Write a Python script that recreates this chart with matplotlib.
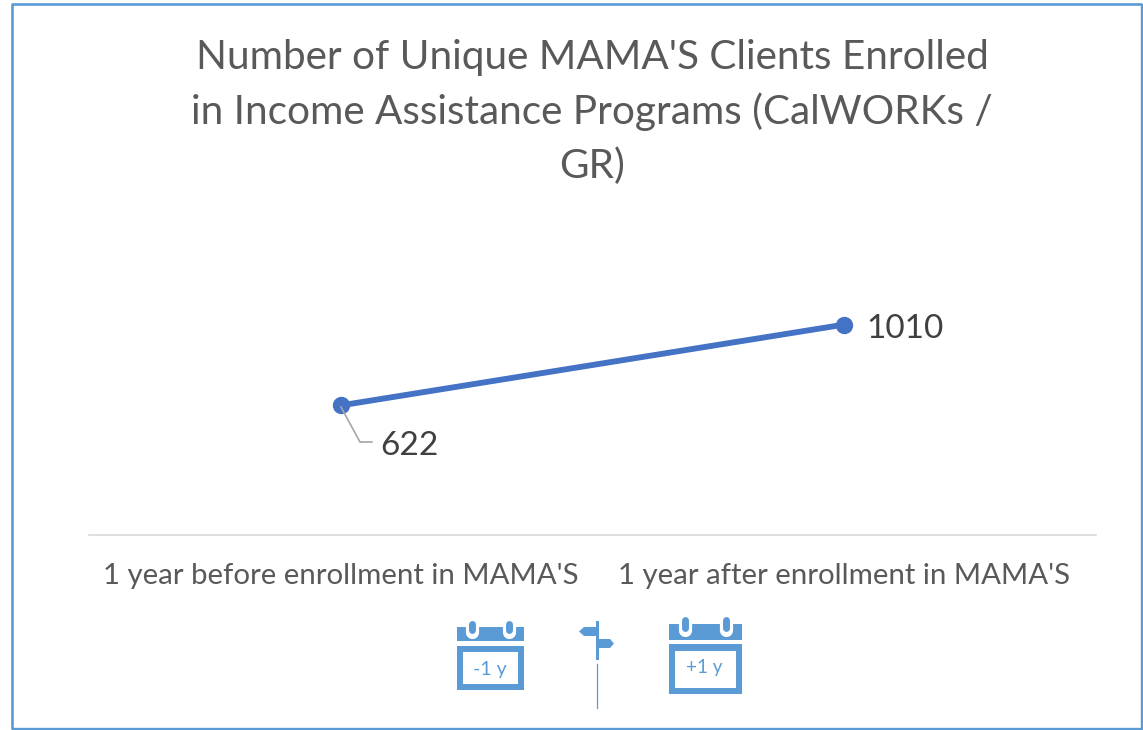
import matplotlib
matplotlib.use("Agg")
import matplotlib.pyplot as plt
from matplotlib.patches import Rectangle, Polygon

title_lines = ["Number of Unique MAMA'S Clients Enrolled",
               "in Income Assistance Programs (CalWORKs /",
               "GR)"]
categories = ["1 year before enrollment in MAMA'S", "1 year after enrollment in MAMA'S"]
values = [622, 1010]

W, H = 1143, 730
BLUE = "#5B9BD5"
plt.rcParams["font.family"] = ["Lato", "DejaVu Sans"]
fig = plt.figure(figsize=(W / 100, H / 100), dpi=100, facecolor="white")

# overlay in pixel coordinates for decoration
ov = fig.add_axes([0, 0, 1, 1], zorder=3)
ov.set_xlim(0, W)
ov.set_ylim(H, 0)
ov.axis("off")
ov.patch.set_alpha(0)

# plot area
left, right, top, base = 89, 1096, 285, 535
ax = fig.add_axes([left / W, 1 - base / H, (right - left) / W, (base - top) / H], zorder=2)
ax.patch.set_alpha(0)
x = list(range(len(values)))
ax.plot(x, values, color="#4472C4", lw=4.2, marker="o", ms=11.5, solid_capstyle="round")
ax.set_xlim(-0.5, 1.5)
ax.set_ylim(0, 1200)
ax.set_yticks([])
ax.set_xticks(x)
ax.set_xticklabels(categories, fontsize=21.2, color="#595959")
ax.tick_params(axis="x", length=0, pad=20.5)
for s in ["top", "left", "right"]:
    ax.spines[s].set_visible(False)
ax.spines["bottom"].set_color("#D9D9D9")
ax.spines["bottom"].set_linewidth(1.2)

# data labels
ax.annotate(str(values[0]), (x[0], values[0]), xytext=(39, -41), textcoords="offset pixels",
            fontsize=24, color="#404040", va="center", ha="left")
ax.annotate(str(values[1]), (x[1], values[1]), xytext=(22, -4), textcoords="offset pixels",
            fontsize=24, color="#404040", va="center", ha="left")
ov.plot([341, 360, 372], [407, 442, 442], color="#A6A6A6", lw=1.2)

# title
for line, yy in zip(title_lines, [57, 112, 166]):
    ov.text(592, yy, line, fontsize=29.2, color="#595959", ha="center", va="center")

# outer frame
ov.plot([12, 12, 1142], [729, 4, 4], color=BLUE, lw=1.9, solid_capstyle="butt")
ov.plot([1142, 1142, 12], [4, 729, 729], color=BLUE, lw=1.7, solid_capstyle="butt")


def calendar(x0, x1, by0, by1, ty0, ty1, ix0, ix1, iy0, iy1, rings, py0, py1, label, tx, ty, fs):
    ov.add_patch(Rectangle((x0, by0), x1 - x0, by1 - by0, fc=BLUE, ec="none"))
    ov.add_patch(Rectangle((x0, ty0), x1 - x0, ty1 - ty0, fc=BLUE, ec="none"))
    ov.add_patch(Rectangle((ix0, iy0), ix1 - ix0, iy1 - iy0, fc="white", ec="none"))
    for r in rings:
        ov.plot([r, r], [py0 - 2, py1 - 1], color="white", lw=9.5, solid_capstyle="round")
        ov.plot([r, r], [py0 + 3, py1 - 3], color=BLUE, lw=5, solid_capstyle="round")
    ov.text(tx, ty, label, fontsize=fs, color=BLUE, ha="center", va="center")


calendar(457, 524, 627, 641, 646, 690, 463, 518, 652, 684, [472, 509], 621, 633, "-1 y", 490, 669, 14)
calendar(669, 742, 624, 640, 644, 694, 675, 736, 651, 688, [685, 726], 617, 631, "+1 y", 704, 667, 13.5)

# signpost
ov.add_patch(Rectangle((595.5, 621), 3, 39, fc=BLUE, ec="none"))
ov.plot([597, 597], [664, 708], color=BLUE, lw=0.9)
ov.add_patch(Polygon([(596, 627), (584, 627), (579, 631.5), (584, 636), (596, 636)], fc=BLUE, ec="none"))
ov.add_patch(Polygon([(598, 639), (610, 639), (614, 643.5), (610, 648), (598, 648)], fc=BLUE, ec="none"))

fig.savefig("out.png", dpi=100, facecolor="white")
